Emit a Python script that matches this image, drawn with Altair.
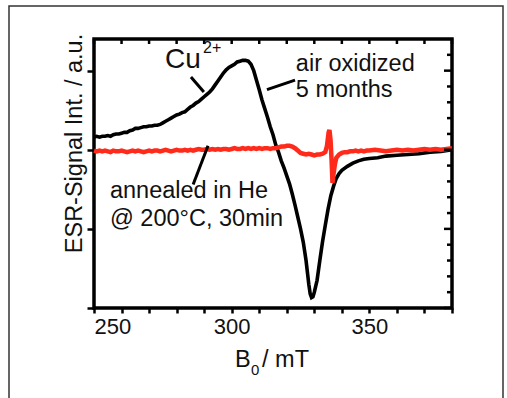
import altair as alt
import pandas as pd

# ---------------- data ----------------
B_black = [250, 251, 252, 253, 254, 255, 256, 257, 258, 259, 260, 261, 262, 263, 264, 265, 266, 267, 268, 269,
           270, 271, 272, 273, 274, 275, 276, 277, 278, 279, 280, 281, 282, 283, 284, 285, 286, 287, 288, 289,
           290, 291, 292, 293, 294, 295, 296, 297, 298, 299, 300, 301, 302, 303, 304, 305, 306, 307, 308, 309,
           310, 311, 312, 313, 314, 315, 316, 317, 318, 319, 320, 321, 322, 323, 324, 325, 326, 327, 328, 328.5,
           329, 329.5, 330, 331, 332, 333, 334, 335, 336, 337, 338, 339, 340, 342, 344, 346, 348, 350, 353, 356,
           360, 364, 368, 372, 376, 380]
I_black = [0.16, 0.17, 0.16, 0.17, 0.17, 0.18, 0.17, 0.19, 0.20, 0.20, 0.21, 0.22, 0.22, 0.24, 0.25, 0.27, 0.27, 0.28, 0.29, 0.29,
           0.30, 0.30, 0.31, 0.31, 0.32, 0.34, 0.36, 0.38, 0.40, 0.42, 0.44, 0.45, 0.47, 0.48, 0.51, 0.54, 0.56, 0.59, 0.61, 0.64,
           0.67, 0.70, 0.73, 0.77, 0.82, 0.87, 0.92, 0.97, 1.01, 1.04, 1.06, 1.08, 1.11, 1.12, 1.13, 1.13, 1.12, 1.08, 1.00, 0.88,
           0.76, 0.63, 0.52, 0.41, 0.29, 0.19, 0.06, -0.03, -0.14, -0.23, -0.33, -0.43, -0.56, -0.70, -0.85, -1.00, -1.17, -1.40, -1.70, -1.82,
           -1.87, -1.86, -1.80, -1.65, -1.40, -1.16, -0.95, -0.75, -0.58, -0.46, -0.36, -0.30, -0.26, -0.21, -0.17, -0.14, -0.12, -0.11, -0.10, -0.08,
           -0.07, -0.06, -0.05, -0.03, -0.02, 0.00]

B_red = [250, 251, 252, 253, 254, 255, 256, 257, 258, 259, 260, 261, 262, 263, 264, 265, 266, 267, 268, 269,
         270, 271, 272, 273, 274, 275, 276, 277, 278, 279, 280, 281, 282, 283, 284, 285, 286, 287, 288, 289,
         290, 291, 292, 293, 294, 295, 296, 297, 298, 299, 300, 301, 302, 303, 304, 305, 306, 307, 308, 309,
         310, 311, 312, 313, 314, 315, 316, 317, 318, 319, 320, 321, 322, 323, 324, 325, 326, 327, 328, 329,
         330, 331, 332, 333, 334, 334.6, 335.2, 335.5, 335.9, 336.3, 336.6, 337, 337.5, 338, 339, 340, 341, 342, 343, 344,
         345, 346, 347, 348, 349, 350, 352, 354, 356, 358, 360, 362, 364, 366, 368, 370, 372, 374, 376, 378, 380]
I_red = [-0.01, -0.02, -0.01, -0.02, -0.01, -0.02, -0.03, -0.01, -0.02, -0.02, -0.01, -0.02, -0.03, -0.02, -0.01, -0.02, -0.01, -0.02, -0.03, -0.02,
         -0.01, -0.02, -0.01, -0.01, -0.02, -0.01, 0.00, -0.01, -0.02, -0.01, 0.00, -0.01, -0.01, 0.00, -0.01, 0.00, -0.01, 0.00, 0.01, 0.00,
         0.00, 0.01, 0.00, 0.01, 0.00, 0.01, 0.00, 0.01, 0.01, 0.00, 0.01, 0.02, 0.01, 0.01, 0.02, 0.01, 0.02, 0.01, 0.02, 0.01,
         0.02, 0.01, 0.02, 0.02, 0.01, 0.02, 0.02, 0.03, 0.04, 0.04, 0.05, 0.05, 0.04, 0.02, -0.01, -0.04, -0.05, -0.06, -0.05, -0.06,
         -0.07, -0.06, -0.06, -0.05, -0.03, 0.05, 0.22, 0.25, 0.12, -0.15, -0.42, -0.30, -0.18, -0.10, -0.06, -0.04, -0.03, -0.03, -0.02, -0.02,
         -0.01, -0.02, -0.01, -0.02, -0.01, -0.01, 0.00, -0.01, -0.02, -0.01, 0.00, -0.01, 0.00, -0.01, 0.00, 0.01, 0.00, 0.01, 0.00, 0.01, 0.02]

x_ticks = [250, 260, 270, 280, 290, 300, 310, 320, 330, 340, 350, 360, 370, 380]
x_labels = [250, 300, 350]
y_major = [-2, -1, 0, 1]
y_minor = [-1.8, -1.6, -1.4, -1.2, -0.8, -0.6, -0.4, -0.2, 0.2, 0.4, 0.6, 0.8, 1.2]

ann_text = ["air oxidized", "5 months", "annealed in He", "@ 200°C, 30min"]
ann_x = [323.3, 323.3, 255.8, 255.8]
ann_y = [0.99, 0.67, -0.61, -0.96]

cu_text = ["Cu", "2+"]
cu_x = [275.8, 289.6]
cu_y = [1.03, 1.22]
cu_size = [28, 16]

ptr_x1 = [285.2, 312.8, 291.4]
ptr_y1 = [0.92, 0.76, 0.05]
ptr_x2 = [289.9, 323.0, 286.0]
ptr_y2 = [0.73, 0.88, -0.44]

x_title_parts = ["B", "0", "/ mT"]
y_title = "ESR-Signal Int. / a.u."

# ---------------- chart ----------------
W, H = 358, 269
FONT = "Liberation Sans"
TXT = "#111111"
RED = "#ff2a1a"

xs = alt.Scale(domain=[250, 380], nice=False, zero=False)
ys = alt.Scale(domain=[-2, 1.4], nice=False, zero=False)

black_df = pd.DataFrame({"B": B_black, "I": I_black})
red_df = pd.DataFrame({"B": B_red, "I": I_red})
one = pd.DataFrame({"k": [0]})

label_expr = "indexof([" + ",".join(str(v) for v in x_labels) + "], datum.value) >= 0 ? datum.label : ''"
x_axis = alt.Axis(values=x_ticks, labelExpr=label_expr,
                  labelOverlap=False, labelFont=FONT, labelFontSize=22, labelColor=TXT, labelPadding=3,
                  tickSize=5, tickWidth=2.5, tickColor="black", domain=False, grid=False, title=None)
y_axis = alt.Axis(values=y_major, labels=False, tickSize=7, tickWidth=2.5, tickColor="black",
                  domain=False, grid=False, title=y_title, titleFont=FONT, titleFontSize=23.5,
                  titleFontWeight="normal", titleColor=TXT, titlePadding=4, titleBaseline="alphabetic",
                  titleY=104)


def X(field):
    return alt.X(field, scale=xs, axis=x_axis)


def Y(field):
    return alt.Y(field, scale=ys, axis=y_axis)


black = alt.Chart(black_df).mark_line(color="black", strokeWidth=3.6).encode(x=X("B:Q"), y=Y("I:Q"))
red = alt.Chart(red_df).mark_line(color=RED, strokeWidth=4.5).encode(x=X("B:Q"), y=Y("I:Q"))

top_ticks = alt.Chart(pd.DataFrame({"B": x_ticks})).mark_rule(color="black", strokeWidth=2.5).encode(
    x=X("B:Q"), y=alt.value(0), y2=alt.value(5))
right_major = alt.Chart(pd.DataFrame({"I": y_major})).mark_rule(color="black", strokeWidth=2.5).encode(
    y=Y("I:Q"), x=alt.value(W), x2=alt.value(W - 8))
right_minor = alt.Chart(pd.DataFrame({"I": y_minor})).mark_rule(color="black", strokeWidth=2.5).encode(
    y=Y("I:Q"), x=alt.value(W), x2=alt.value(W - 5))

ptr = alt.Chart(pd.DataFrame({"B": ptr_x1, "I": ptr_y1, "B2": ptr_x2, "I2": ptr_y2})).mark_rule(
    color="black", strokeWidth=3).encode(x=X("B:Q"), y=Y("I:Q"), x2="B2:Q", y2="I2:Q")

ann = alt.Chart(pd.DataFrame({"t": ann_text, "B": ann_x, "I": ann_y})).mark_text(
    align="left", baseline="alphabetic", font=FONT, fontSize=23.5, color=TXT).encode(
    x=X("B:Q"), y=Y("I:Q"), text="t:N")

cu = alt.Chart(pd.DataFrame({"t": cu_text, "B": cu_x, "I": cu_y, "s": cu_size})).mark_text(
    align="left", baseline="alphabetic", font=FONT, color=TXT).encode(
    x=X("B:Q"), y=Y("I:Q"), text="t:N", size=alt.Size("s:Q", scale=None, legend=None))

xt_B = alt.Chart(one).mark_text(text=x_title_parts[0], align="left", baseline="alphabetic", font=FONT,
                                fontSize=23.5, color=TXT).encode(x=alt.value(141), y=alt.value(328))
xt_0 = alt.Chart(one).mark_text(text=x_title_parts[1], align="left", baseline="alphabetic", font=FONT,
                                fontSize=15, color=TXT).encode(x=alt.value(157), y=alt.value(336))
xt_u = alt.Chart(one).mark_text(text=x_title_parts[2], align="left", baseline="alphabetic", font=FONT,
                                fontSize=23.5, color=TXT).encode(x=alt.value(168), y=alt.value(328))

border = alt.Chart(one).mark_rect(filled=False, stroke="#333333", strokeWidth=1.5).encode(
    x=alt.value(-85), x2=alt.value(409), y=alt.value(-33), y2=alt.value(372))

chart = alt.layer(
    black, red, top_ticks, right_major, right_minor, ptr, ann, cu, xt_B, xt_0, xt_u, border
).properties(
    width=W, height=H,
    autosize=alt.AutoSizeParams(type="none"),
    padding={"left": 94, "top": 39, "right": 55, "bottom": 90},
    background="white",
).configure_view(stroke="black", strokeWidth=3.5)

chart.save("out.html", embed_options={"renderer": "svg", "actions": False})
